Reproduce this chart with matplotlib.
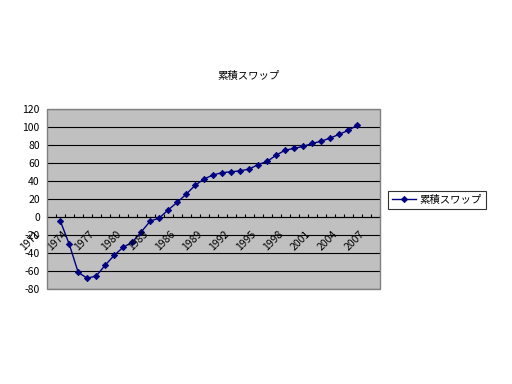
import numpy as np
import matplotlib
matplotlib.use('Agg')
import matplotlib.pyplot as plt
from matplotlib.patches import Rectangle
from matplotlib.transforms import ScaledTranslation

plt.rcParams['font.family'] = ['Noto Sans CJK JP', 'DejaVu Sans']

# category axis: one category per year
categories = list(range(1971, 2008))
label_years = list(range(1971, 2008, 3))
# cumulative swap, one value per year (1972-2005)
data_years = list(range(1972, 2006))
swap = [-4, -30, -61.5, -68, -65.5, -53.5, -42.5, -33.5, -28, -16.5,
        -4.5, -1, 8, 16.5, 25.5, 35.5, 42.5, 47, 49.5, 50.5,
        51.5, 53.5, 58.5, 62, 69, 74.5, 76.5, 78.7, 82, 84.5,
        88, 92.2, 96.5, 102.2]
series_name = '累積スワップ'
yticks = list(range(-80, 121, 20))

fig = plt.figure(figsize=(5.12, 3.84), dpi=100)
ax = fig.add_axes([46.7 / 512, 1 - 289 / 384, 333 / 512, 179.7 / 384])
ax.set_facecolor('#C0C0C0')

xpos = [categories.index(y) for y in data_years]
ax.plot(xpos, swap, color='#000080', lw=1, marker='D', ms=3.2, mew=0.6,
        mec='#000080', mfc='#000080', label=series_name, zorder=3)

ax.set_xlim(-0.5, len(categories) - 0.5)
ax.set_ylim(-80, 120)
ax.set_yticks(yticks)
ax.set_yticklabels([str(v) for v in yticks], fontsize=7.5)
ax.tick_params(axis='y', length=0, pad=5)
ax.yaxis.grid(True, color='black', lw=0.8)
ax.set_axisbelow(True)

for s in ['top', 'right', 'left']:
    ax.spines[s].set_visible(False)
ax.spines['bottom'].set_position(('data', 0))
ax.spines['bottom'].set_color('black')
ax.spines['bottom'].set_linewidth(0.8)
ax.set_xticks([])
ax.set_xticks(np.arange(-0.5, len(categories), 1), minor=True)
ax.tick_params(axis='x', which='minor', direction='in', length=2, width=0.8, color='black')

# rotated year labels, shifted like the original chart
off = ScaledTranslation(-0.16, -0.12, fig.dpi_scale_trans)
for y in label_years:
    ax.text(categories.index(y), 0, str(y), transform=ax.transData + off,
            rotation=45, rotation_mode='anchor', ha='right', va='top',
            fontsize=7.5, clip_on=False)

ax.add_patch(Rectangle((0, 0), 1, 1, transform=ax.transAxes, fill=False,
                       edgecolor='#808080', lw=1, zorder=5, clip_on=False))

fig.text(249 / 512, 1 - 75.5 / 384, series_name, ha='center', va='center', fontsize=7.5)

leg = ax.legend(loc='center left', bbox_to_anchor=(388 / 512, 1 - 200 / 384),
                bbox_transform=fig.transFigure, fontsize=7.5, frameon=True,
                fancybox=False, borderaxespad=0, borderpad=0.35,
                handlelength=2.3, handletextpad=0.4)
leg.get_frame().set_edgecolor('black')
leg.get_frame().set_linewidth(0.8)

fig.savefig('out.png', dpi=100, facecolor='white')
